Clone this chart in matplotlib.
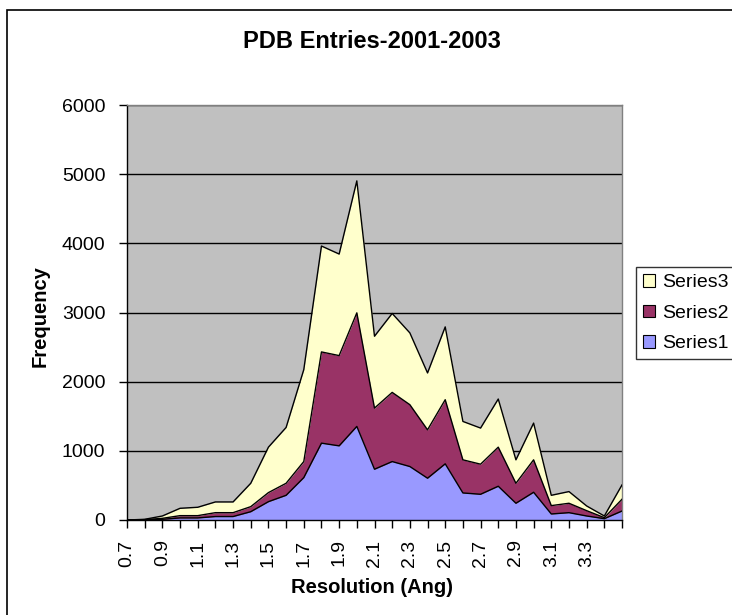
import matplotlib
matplotlib.use("Agg")
import matplotlib.pyplot as plt
from matplotlib.patches import Rectangle, Patch
import numpy as np

plt.rcParams['font.family'] = ['Liberation Sans', 'DejaVu Sans']

# Resolution bins (Angstrom)
resolution = [0.7, 0.8, 0.9, 1.0, 1.1, 1.2, 1.3, 1.4, 1.5, 1.6, 1.7, 1.8, 1.9, 2.0,
              2.1, 2.2, 2.3, 2.4, 2.5, 2.6, 2.7, 2.8, 2.9, 3.0, 3.1, 3.2, 3.3, 3.4, 3.5]
tick_labels = ['0.7', '0.9', '1.1', '1.3', '1.5', '1.7', '1.9', '2.1', '2.3',
               '2.5', '2.7', '2.9', '3.1', '3.3']

series1 = [0, 5, 10, 30, 30, 50, 50, 120, 265, 357, 613, 1111, 1072, 1353,
           734, 845, 773, 604, 812, 391, 372, 488, 242, 401, 87, 106, 58, 19, 130]
series2 = [0, 0, 14, 33, 33, 56, 56, 73, 131, 174, 232, 1319, 1305, 1642,
           884, 1000, 894, 700, 927, 479, 435, 565, 289, 469, 121, 136, 77, 15, 170]
series3 = [0, 5, 34, 106, 121, 155, 155, 338, 657, 807, 1329, 1531, 1468, 1908,
           1039, 1141, 1038, 822, 1053, 555, 522, 696, 339, 531, 149, 169, 68, 24, 207]

colors = ['#9999FF', '#993366', '#FFFFCC']
names = ['Series1', 'Series2', 'Series3']

W, H = 732, 615
fig = plt.figure(figsize=(W / 100, H / 100), dpi=100)

# outer chart border
fig.patches.append(Rectangle((7 / W, -0.05), 1.2, 1 - 10 / H + 0.05,
                             transform=fig.transFigure, fill=False,
                             edgecolor='black', linewidth=1.2, zorder=0))

left, right, top, bottom = 127, 622, 105, 520
ax = fig.add_axes([left / W, 1 - bottom / H, (right - left) / W, (bottom - top) / H])
ax.set_facecolor('#C0C0C0')

x = np.arange(len(resolution))
s1 = np.array(series1)
s2 = np.array(series2)
s3 = np.array(series3)
c1 = s1
c2 = s1 + s2
c3 = s1 + s2 + s3

ax.fill_between(x, 0, c1, color=colors[0], zorder=2, linewidth=0)
ax.fill_between(x, c1, c2, color=colors[1], zorder=2, linewidth=0)
ax.fill_between(x, c2, c3, color=colors[2], zorder=2, linewidth=0)
for c in (c1, c2, c3):
    ax.plot(x, c, color='black', linewidth=1.0, zorder=3)

ax.set_xlim(0, len(resolution) - 1)
ax.set_ylim(0, 6000)
ax.set_yticks(np.arange(0, 6001, 1000))
ax.yaxis.grid(True, color='black', linewidth=1.0)
ax.set_axisbelow(True)

ax.set_xticks(x, minor=True)
ax.set_xticks(x[::2][:len(tick_labels)])
ax.set_xticklabels(tick_labels, rotation=90, fontsize=14)
ax.tick_params(axis='x', which='both', direction='out', length=6, width=1, pad=8)
ax.tick_params(axis='y', direction='out', length=6, width=1, labelsize=14, pad=9.5)

for s in ('top', 'right'):
    ax.spines[s].set_color('#808080')
    ax.spines[s].set_linewidth(1.0)
for s in ('left', 'bottom'):
    ax.spines[s].set_color('black')
    ax.spines[s].set_linewidth(1.0)

fig.text(372 / W, 1 - 48 / H, 'PDB Entries-2001-2003', ha='center', va='baseline',
         fontsize=17, fontweight='bold')
fig.text(372 / W, 1 - 593 / H, 'Resolution (Ang)', ha='center', va='baseline',
         fontsize=14.5, fontweight='bold')
fig.text(40 / W, 1 - 316 / H, 'Frequency', ha='center', va='center',
         rotation=90, fontsize=14.5, fontweight='bold')

handles = [Patch(facecolor=colors[i], edgecolor='black', linewidth=0.8, label=names[i])
           for i in (2, 1, 0)]
fig.legend(handles=handles, loc='upper left', bbox_to_anchor=(636 / W, 1 - 267 / H),
           frameon=True, fancybox=False, edgecolor='black', fontsize=14,
           handlelength=0.62, handleheight=0.62, handletextpad=0.36,
           borderpad=0.36, labelspacing=0.69, borderaxespad=0)

fig.savefig('out.png', dpi=100)
